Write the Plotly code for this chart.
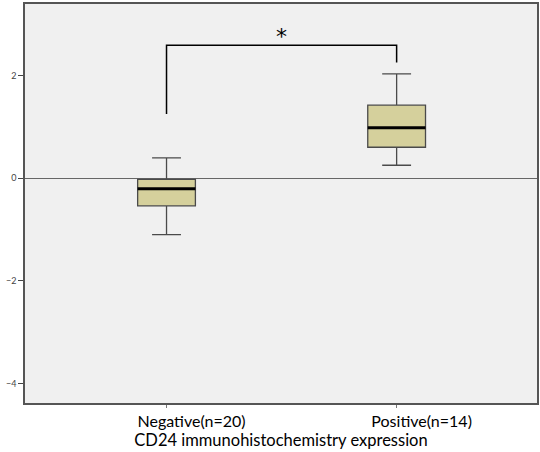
import plotly.graph_objects as go

categories = ["Negative(n=20)", "Positive(n=14)"]
xpos = [0, 1]
lower_whisker = [-1.10, 0.25]
q1_vals = [-0.54, 0.60]
median_vals = [-0.21, 0.98]
q3_vals = [-0.025, 1.42]
upper_whisker = [0.395, 2.03]

# significance bracket
bracket_top = 2.585
bracket_left_end = 1.25
bracket_right_end = 2.25
sig_label = "*"

box_width = 0.251
fill = "#d5d09c"

fig = go.Figure()
fig.add_trace(go.Box(
    x=xpos, q1=q1_vals, median=median_vals, q3=q3_vals,
    lowerfence=lower_whisker, upperfence=upper_whisker,
    width=box_width, whiskerwidth=0.5,
    fillcolor=fill, line=dict(color="#4a4a4a", width=1.3),
    boxpoints=False, hoverinfo="skip", showlegend=False,
))
# thick median lines
for xi, m in zip(xpos, median_vals):
    fig.add_trace(go.Scatter(
        x=[xi - box_width / 2, xi + box_width / 2], y=[m, m], mode="lines",
        line=dict(color="black", width=3), showlegend=False, hoverinfo="skip",
    ))
# bracket
fig.add_trace(go.Scatter(
    x=[xpos[0], xpos[0], xpos[1], xpos[1]],
    y=[bracket_left_end, bracket_top, bracket_top, bracket_right_end],
    mode="lines", line=dict(color="black", width=1.5),
    showlegend=False, hoverinfo="skip",
))
fig.add_annotation(
    x=(xpos[0] + xpos[1]) / 2, y=bracket_top, text=sig_label, showarrow=False,
    yanchor="bottom", yshift=-6, font=dict(size=22, color="black", family="DejaVu Sans"),
)

fig.update_layout(
    width=540, height=452,
    margin=dict(l=25, r=1, t=4, b=49),
    plot_bgcolor="#f0f0f0", paper_bgcolor="white",
    font=dict(family="Lato", color="black"),
    xaxis=dict(
        range=[-0.615, 1.61], tickvals=xpos, ticktext=categories,
        showgrid=False, zeroline=False,
        showline=True, linecolor="#555555", linewidth=1.5, mirror=True,
        ticks="outside", ticklen=3, tickcolor="#777777",
        ticklabelshift=25,
        tickfont=dict(size=16, family="Lato", color="black"),
        title=dict(text="CD24 immunohistochemistry expression",
                   font=dict(size=16.5, family="Lato", color="black"), standoff=2),
    ),
    yaxis=dict(
        range=[-4.38, 3.39], tickvals=[-4, -2, 0, 2],
        showgrid=False, zeroline=True, zerolinecolor="#666666", zerolinewidth=1.2,
        showline=True, linecolor="#555555", linewidth=1.5, mirror=True,
        ticks="outside", ticklen=5, tickcolor="#444444",
        tickfont=dict(size=9, color="#444444"),
    ),
)

fig.write_html("out.html", config={"displayModeBar": False},
               post_script="document.body.style.margin='0';")
